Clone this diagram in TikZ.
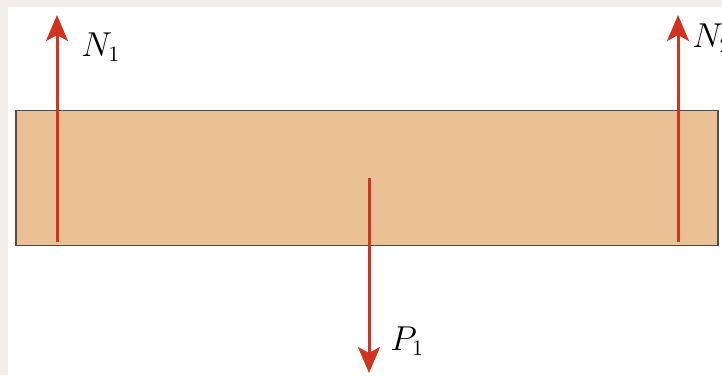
\documentclass[tikz,border=0pt]{standalone}
\usepackage{tikz}
\usetikzlibrary{positioning,arrows.meta}
\definecolor{beamfill}{RGB}{234,192,149}
\definecolor{forcered}{RGB}{210,50,32}
\definecolor{framebg}{RGB}{243,236,231}

\begin{document}
\begin{tikzpicture}[x=0.5pt,y=-0.5pt,
  beam/.style={rectangle,draw=black!70,fill=beamfill,line width=0.6pt,minimum width=351pt,minimum height=67.5pt,inner sep=0pt},
  force/.style={-{Stealth[length=13pt,width=11pt,inset=3pt]},draw=forcered,fill=forcered,line width=1.5pt},
  lbl/.style={inner sep=0pt,font=\fontsize{16}{19}\selectfont}
]
\useasboundingbox (0,0) rectangle (722,375);
\fill[framebg] (0,0) rectangle (722,375);
\fill[white] (8,7) rectangle (722,375);
\node[beam] (bar) at (367,178) {};
\coordinate (n1foot) at (57,242);
\coordinate (n1tip) at (57,15);
\coordinate (n2foot) at (678,242);
\coordinate (n2tip) at (678,15);
\coordinate (p1foot) at (369,178);
\coordinate (p1tip) at (369,373);
\draw[force] (n1foot) -- (n1tip);
\draw[force] (n2foot) -- (n2tip);
\draw[force] (p1foot) -- (p1tip);
\node[lbl,anchor=base west] (n1) at (81,56) {$N_1$};
\node[lbl,anchor=base west] (n2) at (692,47) {$N_2$};
\node[lbl,anchor=base west] (p1) at (390,350) {$P_1$};
\end{tikzpicture}
\end{document}
